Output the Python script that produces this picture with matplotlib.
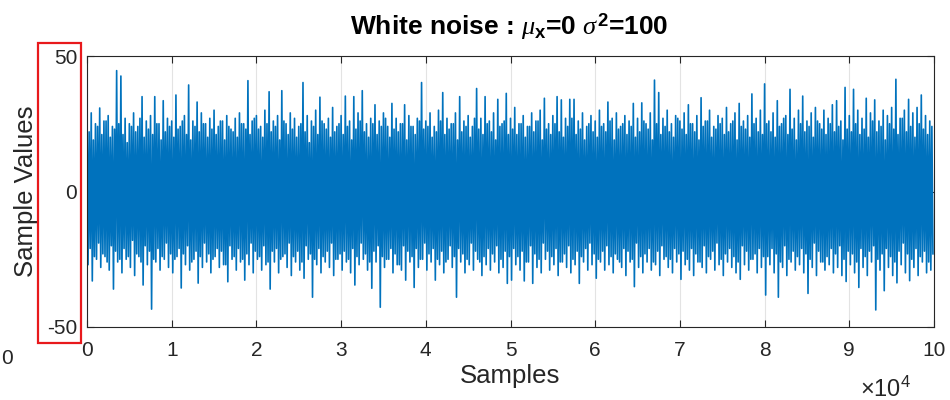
import numpy as np
import matplotlib
matplotlib.use("Agg")
import matplotlib.pyplot as plt
from matplotlib.patches import Rectangle

# ---- data ----
# per 500-sample column: highest / lowest excursion and the typical band edges
col_step = 500
upper_peaks = [
    27, 29, 25, 30.8, 26, 28, 24, 44.6, 42.6, 27, 25, 29, 24, 35, 26, 28, 35, 25, 33.5, 27,
    26, 35.6, 24, 28, 39.3, 26, 33, 29, 25, 27, 30, 24, 26, 28, 23, 27, 29, 25, 40.9, 26,
    28, 24, 30, 36.8, 26, 28, 37.2, 25, 29, 27, 24, 40.2, 28, 26, 30, 34.8, 25, 27, 31, 24,
    28, 35.2, 26, 35, 29, 37.2, 25, 27, 32, 26, 29, 24, 32.5, 27, 25, 32, 28, 24, 27, 40.2,
    26, 29, 24, 30, 36.5, 27, 25, 29, 35, 26, 28, 24, 38, 27, 35, 26, 29, 34, 25, 36.2,
    27, 31, 25, 28, 24, 29, 26, 30, 34.4, 25, 28, 35, 33.8, 27, 34, 34, 26, 29, 24, 28,
    26, 30, 25, 33, 27, 29, 24, 28, 26, 32.5, 27, 32.7, 25, 29, 41.1, 36.5, 27, 30, 25, 28,
    26, 29, 32, 25, 28, 34.6, 26, 30, 24, 28, 27, 31, 25, 29, 32.5, 26, 28, 36, 27, 30,
    39.7, 26, 29, 33.5, 25, 28, 37.7, 27, 30, 35.2, 26, 29, 31, 25, 30, 27, 32, 33.5, 26, 38.4,
    28, 37.7, 30, 27, 34.4, 29, 33.8, 26, 30, 28, 31, 41.4, 27, 30, 34, 29, 31, 35.6, 28, 26,
]
lower_peaks = [
    -27, -33, -25, -28, -24, -29, -36, -26, -30, -25, -28, -31, -24, -34.5, -27, -43.4, -26, -29, -25, -28,
    -30, -24, -35.6, -27, -29, -25, -33.8, -28, -26, -30, -24, -28, -27, -33.3, -25, -29, -26, -32.7, -27, -30,
    -25, -29, -27, -36, -26, -30, -24, -28, -31, -26, -29, -32, -25, -39, -27, -30, -26, -28, -31, -25,
    -29, -26, -30, -34.5, -27, -25, -29, -35.7, -26, -42.7, -28, -25, -30, -27, -29, -32.7, -26, -35.4, -28, -25,
    -29, -26, -32.7, -27, -30, -25, -28, -39, -26, -30, -27, -29, -25, -31, -27, -29, -26, -30, -28, -33.9,
    -32.7, -27, -29, -33, -26, -33.9, -28, -30, -25, -29, -27, -31, -26, -28, -30, -27, -33.9, -26, -29, -27,
    -32, -26, -29, -27, -30, -25, -28, -31, -26, -35.1, -28, -30, -26, -29, -27, -31, -25, -28, -30, -26,
    -32.4, -27, -29, -31, -26, -28, -30, -25, -29, -27, -31, -26, -28, -30, -32.4, -27, -29, -25, -30, -28,
    -38.2, -27, -30, -39, -28, -31, -26, -29, -27, -30, -37.6, -28, -31, -26, -29, -27, -30, -28, -31, -33.2,
    -27, -30, -35.4, -28, -31, -26, -43.7, -29, -36.6, -28, -31, -33.7, -27, -30, -32.9, -28, -31, -26, -30, -29,
]
upper_edge = [
    22, 19, 24, 21, 26, 20, 23, 25, 21, 18, 24, 22, 27, 20, 23, 21, 25, 19, 22, 24,
    20, 23, 26, 21, 19, 24, 22, 25, 20, 23, 21, 26, 19, 24, 22, 20, 25, 23, 21, 27,
    23, 20, 25, 22, 24, 19, 26, 21, 23, 20, 25, 22, 18, 24, 21, 26, 23, 20, 22, 25,
    21, 24, 19, 23, 26, 22, 20, 25, 21, 24, 27, 20, 23, 22, 25, 19, 24, 21, 26, 23,
    24, 20, 22, 26, 21, 23, 25, 19, 22, 24, 20, 27, 23, 21, 25, 22, 19, 24, 26, 21,
    23, 21, 25, 20, 24, 22, 26, 19, 23, 21, 25, 22, 20, 24, 27, 21, 23, 19, 25, 22,
    20, 24, 22, 26, 19, 23, 25, 21, 24, 20, 22, 26, 23, 19, 25, 21, 24, 22, 20, 27,
    23, 21, 25, 22, 19, 24, 26, 20, 23, 25, 21, 22, 26, 19, 24, 23, 20, 25, 22, 21,
    25, 22, 20, 24, 27, 21, 23, 19, 25, 22, 24, 20, 26, 23, 21, 25, 22, 24, 19, 23,
    22, 25, 21, 23, 20, 26, 22, 24, 19, 25, 23, 21, 27, 22, 24, 20, 25, 23, 21, 24,
]
lower_edge = [
    -21, -24, -19, -23, -26, -20, -22, -25, -21, -24, -18, -23, -26, -20, -22, -25, -21, -24, -19, -23,
    -25, -21, -23, -20, -26, -22, -24, -19, -23, -25, -21, -22, -27, -20, -24, -21, -25, -23, -19, -22,
    -24, -20, -26, -22, -21, -25, -23, -19, -24, -22, -26, -20, -23, -25, -21, -24, -22, -19, -25, -23,
    -22, -25, -21, -24, -19, -23, -26, -22, -20, -24, -25, -21, -23, -27, -20, -22, -24, -21, -25, -19,
    -23, -21, -25, -22, -26, -20, -24, -21, -23, -25, -19, -22, -26, -24, -21, -23, -20, -25, -22, -24,
    -21, -24, -22, -26, -20, -23, -25, -19, -22, -24, -21, -26, -23, -20, -25, -22, -24, -21, -19, -23,
    -25, -22, -20, -24, -23, -26, -21, -22, -25, -19, -24, -23, -21, -26, -22, -20, -24, -25, -21, -23,
    -22, -25, -21, -23, -26, -20, -24, -22, -19, -25, -23, -21, -24, -26, -20, -22, -25, -23, -21, -24,
    -24, -21, -23, -26, -20, -25, -22, -24, -21, -23, -25, -19, -22, -26, -24, -21, -23, -20, -25, -22,
    -23, -26, -21, -24, -22, -20, -25, -23, -21, -24, -26, -22, -19, -23, -25, -21, -24, -22, -26, -23,
]
x_ticks = [0, 1, 2, 3, 4, 5, 6, 7, 8, 9, 10]
y_ticks = [-50, 0, 50]

# ---- build the sample trace: peak, trough, edge-high, edge-low within each column ----
n = len(upper_peaks)
cols = np.arange(n) * col_step
xs = np.empty(4 * n)
ys = np.empty(4 * n)
for k, arr in enumerate([upper_peaks, lower_peaks, upper_edge, lower_edge]):
    xs[k::4] = cols + k * col_step / 4
    ys[k::4] = arr

plt.rcParams['font.family'] = ['Liberation Sans', 'DejaVu Sans']
plt.rcParams['mathtext.fontset'] = 'custom'
plt.rcParams['mathtext.it'] = 'Liberation Serif:italic'
plt.rcParams['mathtext.rm'] = 'Liberation Sans'
plt.rcParams['mathtext.bf'] = 'Liberation Sans:bold'

fig = plt.figure(figsize=(9.5, 4), dpi=100)
ax = fig.add_axes([87 / 950, 1 - 327 / 400, (934 - 87) / 950, (327 - 56) / 400])

blue = '#0072BD'
ax.plot(xs, ys, color=blue, lw=1.2)

ax.set_xlim(0, 100000)
ax.set_ylim(-50, 50)
ax.set_xticks([t * 1e4 for t in x_ticks])
ax.set_xticklabels([str(t) for t in x_ticks])
ax.set_yticks(y_ticks)
ax.set_yticklabels([str(t) for t in y_ticks])
ax.grid(True, color='#e3e3e3', lw=0.8)
ax.set_axisbelow(True)
dark = '#262626'
for s in ax.spines.values():
    s.set_color(dark)
    s.set_linewidth(0.8)
ax.tick_params(direction='in', length=5, width=0.8, colors=dark, labelsize=15,
               top=True, right=True)
ax.tick_params(axis='x', pad=10)
ax.tick_params(axis='y', pad=7)

ax.set_xlabel('Samples', fontsize=18.5, color=dark)
ax.xaxis.set_label_coords(0.5, -0.138)
ax.set_ylabel('Sample Values', fontsize=18.5, color=dark)
ax.yaxis.set_label_coords(-0.058, 0.5)
fig.text(509 / 950, 1 - 27 / 400,
         r'White noise : $\mu_{\mathbf{x}}$=0 $\sigma^{\mathbf{2}}$=100',
         fontsize=19, fontweight='bold', ha='center', va='center', color='black')
fig.text(911 / 950, 1 - 389 / 400, r'$\mathregular{\times10^{4}}$', fontsize=17, color=dark,
         ha='right', va='center')

# red highlight box around the y tick labels and a neighbouring label at the edge
fig.patches.append(Rectangle((37.5 / 950, 1 - 343 / 400), (81 - 37.5) / 950, (343 - 42.5) / 400,
                             transform=fig.transFigure, fill=False, ec='#e8191c', lw=1.6))
fig.text(0.001, 1 - 358 / 400, '0', fontsize=15, color=dark, ha='left', va='center')

fig.savefig('out.png', dpi=100)
